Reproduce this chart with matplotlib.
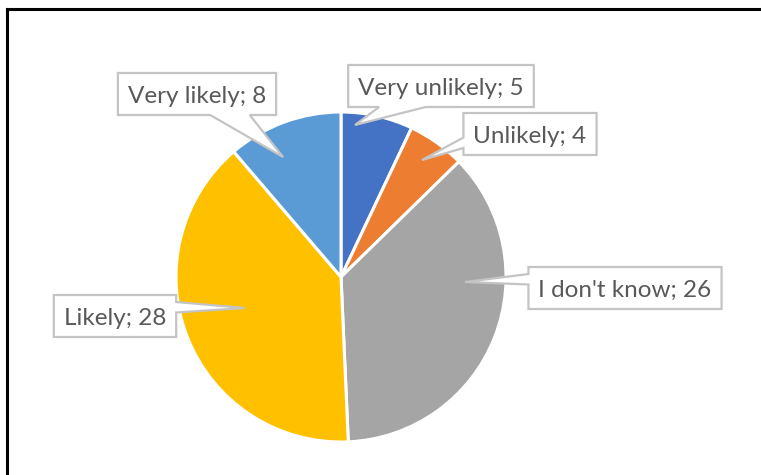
import matplotlib
matplotlib.use("Agg")
import matplotlib.pyplot as plt
from matplotlib.lines import Line2D
from matplotlib.patches import Polygon

# Survey answers
categories = ["Very unlikely", "Unlikely", "I don't know", "Likely", "Very likely"]
counts = [5, 4, 26, 28, 8]
colors = ["#4472C4", "#ED7D31", "#A5A5A5", "#FFC000", "#5B9BD5"]

# Callout layout in pixel space (x right, y down): box centre and pointer tip
label_centres = [(441, 86), (530, 134), (625, 288), (115, 316), (197, 94)]
pointer_tips = [(355, 125), (422, 160), (465, 282), (245, 308), (283, 157)]

W, H = 761, 475
FONT = "Lato"
FSIZE = 17.5
BOX_H = 42
PAD_X = 10

fig = plt.figure(figsize=(W / 100, H / 100), dpi=100)
ax = fig.add_axes([0, 0, 1, 1])

cx, cy, r = 341, H - 277, 165
ax.pie(counts, colors=colors, startangle=90, counterclock=False,
       center=(cx, cy), radius=r, frame=True,
       wedgeprops=dict(edgecolor="white", linewidth=2.2))
ax.set_xlim(0, W)
ax.set_ylim(0, H)
ax.set_aspect("equal")
ax.axis("off")


def callout_vertices(x0, y0, x1, y1, tip):
    """Rectangle with a wedge pointer (Office 'wedgeRectCallout' geometry)."""
    w, h = x1 - x0, y1 - y0
    bx, by = (x0 + x1) / 2, (y0 + y1) / 2
    tx, ty = tip
    dx, dy = tx - bx, ty - by
    dq = dx * h / w
    xa, xb = (w * 7 / 12, w * 10 / 12) if dx > 0 else (w * 2 / 12, w * 5 / 12)
    ya, yb = (h * 7 / 12, h * 10 / 12) if dy > 0 else (h * 2 / 12, h * 5 / 12)
    top = [(x0, y0)]
    right = [(x1, y0)]
    bottom = [(x1, y1)]
    left = [(x0, y1)]
    if abs(dy) > abs(dq):
        if dy > 0:
            bottom += [(x0 + xb, y1), (tx, ty), (x0 + xa, y1)]
        else:
            top += [(x0 + xa, y0), (tx, ty), (x0 + xb, y0)]
    else:
        if dx > 0:
            right += [(x1, y0 + ya), (tx, ty), (x1, y0 + yb)]
        else:
            left += [(x0, y0 + yb), (tx, ty), (x0, y0 + ya)]
    return top + right + bottom + left


renderer = fig.canvas.get_renderer()
cap = 0.72 * FSIZE * 100 / 72  # cap height in pixels

for name, val, (lx, ly), tip in zip(categories, counts, label_centres, pointer_tips):
    t = ax.text(lx, H - (ly + cap / 2), f"{name}; {val}", ha="center", va="baseline",
                fontsize=FSIZE, family=FONT, color="#595959", zorder=5)
    tw = t.get_window_extent(renderer).width
    bw = tw + 2 * PAD_X
    x0, x1 = lx - bw / 2, lx + bw / 2
    y0, y1 = ly - BOX_H / 2, ly + BOX_H / 2
    verts = [(x, H - y) for x, y in callout_vertices(x0, y0, x1, y1, tip)]
    ax.add_patch(Polygon(verts, closed=True, fc="white", ec="#c4c4c4",
                         lw=1.6, joinstyle="miter", zorder=4))

# Outer frame (top and left edges)
fig.add_artist(Line2D([7 / W, 1], [1 - 9 / H, 1 - 9 / H], color="black", lw=2.2,
                      transform=fig.transFigure))
fig.add_artist(Line2D([7 / W, 7 / W], [0, 1 - 9 / H], color="black", lw=2.2,
                      transform=fig.transFigure))

fig.savefig("out.png", dpi=100, facecolor="white")
